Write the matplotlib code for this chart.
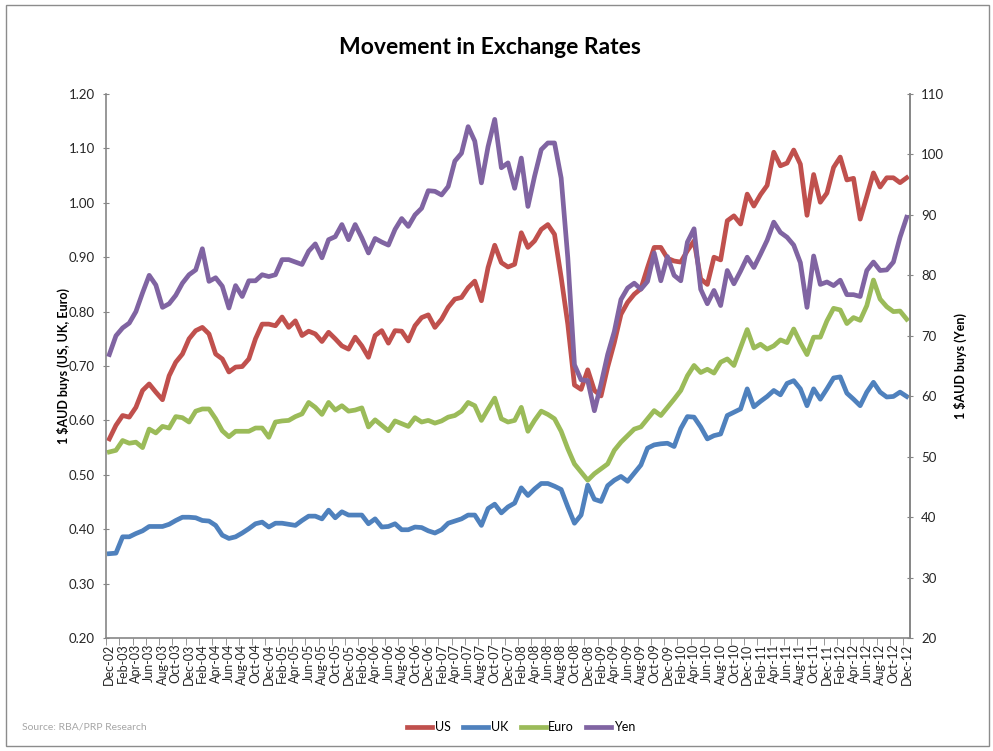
import pandas as pd
import matplotlib
matplotlib.use("Agg")
import matplotlib.pyplot as plt
from matplotlib.patches import Rectangle
from matplotlib.ticker import FixedLocator, MultipleLocator

plt.rcParams["font.family"] = ["Lato", "DejaVu Sans"]

# month-end values, Dec-02 .. Dec-12
months = pd.date_range("2002-12-01", periods=121, freq="MS").strftime("%b-%y").tolist()

us = [0.566, 0.591, 0.609, 0.606, 0.624, 0.655, 0.667, 0.652, 0.638, 0.682,
      0.707, 0.722, 0.750, 0.765, 0.771, 0.759, 0.722, 0.713, 0.689, 0.698,
      0.699, 0.713, 0.750, 0.777, 0.777, 0.774, 0.790, 0.771, 0.783, 0.756,
      0.764, 0.759, 0.745, 0.762, 0.750, 0.737, 0.731, 0.753, 0.737, 0.716,
      0.756, 0.765, 0.742, 0.765, 0.764, 0.746, 0.774, 0.789, 0.794, 0.771,
      0.786, 0.808, 0.823, 0.826, 0.844, 0.856, 0.820, 0.881, 0.922, 0.890,
      0.882, 0.887, 0.945, 0.918, 0.930, 0.951, 0.960, 0.942, 0.863, 0.777,
      0.665, 0.657, 0.693, 0.655, 0.645, 0.698, 0.743, 0.795, 0.817, 0.832,
      0.842, 0.881, 0.918, 0.918, 0.898, 0.893, 0.891, 0.912, 0.930, 0.860,
      0.850, 0.900, 0.895, 0.967, 0.976, 0.961, 1.016, 0.994, 1.015, 1.032,
      1.093, 1.068, 1.073, 1.097, 1.071, 0.977, 1.052, 1.001, 1.018, 1.065,
      1.084, 1.042, 1.045, 0.970, 1.012, 1.055, 1.029, 1.046, 1.046, 1.037,
      1.046]

uk = [0.355, 0.356, 0.386, 0.386, 0.392, 0.397, 0.405, 0.405, 0.405, 0.409,
      0.416, 0.422, 0.422, 0.421, 0.416, 0.415, 0.407, 0.389, 0.383, 0.386,
      0.393, 0.401, 0.410, 0.413, 0.404, 0.411, 0.411, 0.409, 0.407, 0.416,
      0.424, 0.424, 0.419, 0.435, 0.421, 0.432, 0.426, 0.426, 0.426, 0.410,
      0.419, 0.404, 0.405, 0.410, 0.399, 0.399, 0.404, 0.403, 0.397, 0.393,
      0.399, 0.411, 0.415, 0.419, 0.426, 0.426, 0.407, 0.438, 0.446, 0.430,
      0.441, 0.448, 0.476, 0.462, 0.474, 0.484, 0.484, 0.479, 0.473, 0.441,
      0.411, 0.426, 0.481, 0.455, 0.451, 0.480, 0.490, 0.497, 0.488, 0.503,
      0.518, 0.549, 0.555, 0.557, 0.558, 0.552, 0.585, 0.607, 0.606, 0.588,
      0.566, 0.572, 0.575, 0.609, 0.615, 0.621, 0.658, 0.625, 0.635, 0.644,
      0.655, 0.647, 0.668, 0.673, 0.658, 0.627, 0.658, 0.639, 0.658, 0.678,
      0.680, 0.650, 0.639, 0.627, 0.652, 0.670, 0.652, 0.643, 0.644, 0.652,
      0.644]

euro = [0.542, 0.545, 0.563, 0.558, 0.560, 0.550, 0.584, 0.577, 0.589, 0.586,
        0.607, 0.605, 0.597, 0.617, 0.621, 0.621, 0.603, 0.581, 0.570, 0.580,
        0.580, 0.580, 0.586, 0.586, 0.569, 0.597, 0.599, 0.600, 0.607, 0.612,
        0.633, 0.624, 0.611, 0.633, 0.619, 0.627, 0.617, 0.619, 0.623, 0.588,
        0.601, 0.591, 0.581, 0.599, 0.594, 0.589, 0.605, 0.597, 0.600, 0.595,
        0.599, 0.606, 0.609, 0.617, 0.633, 0.627, 0.600, 0.621, 0.641, 0.603,
        0.597, 0.600, 0.624, 0.580, 0.600, 0.617, 0.611, 0.603, 0.580, 0.548,
        0.520, 0.505, 0.490, 0.502, 0.511, 0.520, 0.545, 0.560, 0.572, 0.584,
        0.588, 0.603, 0.618, 0.609, 0.624, 0.639, 0.655, 0.682, 0.701, 0.688,
        0.694, 0.687, 0.707, 0.713, 0.701, 0.734, 0.767, 0.733, 0.740, 0.731,
        0.737, 0.748, 0.743, 0.768, 0.743, 0.721, 0.753, 0.753, 0.783, 0.806,
        0.803, 0.778, 0.789, 0.784, 0.811, 0.858, 0.823, 0.809, 0.800, 0.801,
        0.786]

yen = [66.9, 70.0, 71.3, 72.1, 74.0, 77.1, 80.0, 78.4, 74.7, 75.3,
       76.7, 78.7, 80.1, 80.9, 84.4, 79.0, 79.6, 78.2, 74.6, 78.3,
       76.5, 79.1, 79.1, 80.1, 79.8, 80.1, 82.6, 82.6, 82.2, 81.8,
       84.0, 85.2, 82.9, 85.9, 86.4, 88.4, 85.9, 88.4, 86.2, 83.7,
       86.1, 85.5, 85.0, 87.6, 89.4, 88.1, 90.0, 91.1, 94.0, 93.9,
       93.3, 94.7, 98.9, 100.2, 104.6, 102.2, 95.3, 101.3, 105.8, 97.8,
       98.6, 94.4, 99.4, 91.4, 96.4, 100.8, 101.9, 101.9, 96.1, 82.9,
       65.2, 62.7, 62.6, 57.6, 62.0, 66.9, 70.7, 76.0, 77.9, 78.7,
       77.7, 79.0, 83.7, 79.1, 83.1, 80.0, 79.1, 85.5, 87.7, 77.7,
       75.3, 77.5, 75.0, 80.8, 78.6, 80.7, 83.0, 81.3, 83.5, 85.8,
       88.8, 87.1, 86.3, 85.0, 82.1, 74.7, 83.2, 78.5, 78.9, 78.3,
       79.2, 76.8, 76.8, 76.5, 80.8, 82.2, 80.8, 80.9, 82.2, 86.3,
       89.6]

RED = "#C0504D"
BLUE = "#4F81BD"
GREEN = "#9BBB59"
PURPLE = "#8064A2"
AXIS = "#868686"
TEXT = "#262626"


def main():
    fig = plt.figure(figsize=(9.93, 7.51), dpi=100)
    ax = fig.add_axes([106 / 993, 1 - 638 / 751, 804 / 993, 544 / 751])
    ax2 = ax.twinx()

    x = list(range(len(months)))
    ax.plot(x, us, color=RED, lw=3.4, label="US", solid_joinstyle="round")
    ax.plot(x, uk, color=BLUE, lw=3.4, label="UK", solid_joinstyle="round")
    ax.plot(x, euro, color=GREEN, lw=3.4, label="Euro", solid_joinstyle="round")
    ax2.plot(x, yen, color=PURPLE, lw=3.4, label="Yen", solid_joinstyle="round")

    ax.set_xlim(-0.5, len(months) - 0.5)
    ax.set_ylim(0.2, 1.2)
    ax2.set_ylim(20, 110)
    ax.yaxis.set_major_locator(MultipleLocator(0.1))
    ax2.yaxis.set_major_locator(MultipleLocator(10))
    ax.yaxis.set_major_formatter(plt.FuncFormatter(lambda v, p: f"{v:.2f}"))

    ax.set_xticks(x[::2])
    ax.set_xticklabels(months[::2], rotation=90, fontsize=9, color=TEXT)
    ax.xaxis.set_minor_locator(FixedLocator([i - 0.5 for i in range(0, 122, 2)]))
    ax.tick_params(axis="x", which="major", length=0, pad=4)
    ax.tick_params(axis="x", which="minor", length=5, color=AXIS, direction="out")

    ax.tick_params(axis="y", length=4, color=AXIS, direction="inout", labelsize=9.5,
                   labelcolor=TEXT, pad=6)
    ax2.tick_params(axis="y", length=4, color=AXIS, direction="inout", labelsize=9.5,
                    labelcolor=TEXT, pad=6)

    for a in (ax, ax2):
        a.spines["top"].set_visible(False)
        for s in ("left", "right", "bottom"):
            a.spines[s].set_color(AXIS)
            a.spines[s].set_linewidth(1.2)
    ax2.spines["left"].set_visible(False)
    ax2.spines["bottom"].set_visible(False)

    ax.set_ylabel("1 $AUD buys (US, UK, Euro)", fontsize=9, fontweight="bold",
                  color="black", labelpad=-1)
    ax2.set_ylabel("1 $AUD buys (Yen)", fontsize=9, fontweight="bold",
                   color="black", rotation=90, labelpad=7)

    fig.text(0.493, 1 - 48 / 751, "Movement in Exchange Rates", ha="center",
             va="center", fontsize=16.5, fontweight="bold", color="black")
    fig.text(22 / 993, 1 - 727 / 751, "Source: RBA/PRP Research", fontsize=7.5,
             color="#a6a6a6", va="center")

    h1, l1 = ax.get_legend_handles_labels()
    h2, l2 = ax2.get_legend_handles_labels()
    fig.legend(h1 + h2, l1 + l2, loc="center", bbox_to_anchor=(0.525, 1 - 727 / 751),
               ncol=4, frameon=False, fontsize=9, handlelength=2.0,
               handletextpad=0.2, columnspacing=1.0)

    fig.add_artist(Rectangle((6 / 993, 5 / 751), 983 / 993, 741 / 751,
                             transform=fig.transFigure, fill=False,
                             edgecolor="#8c8c8c", lw=1))

    fig.savefig("out.png", dpi=100)


if __name__ == "__main__":
    main()
